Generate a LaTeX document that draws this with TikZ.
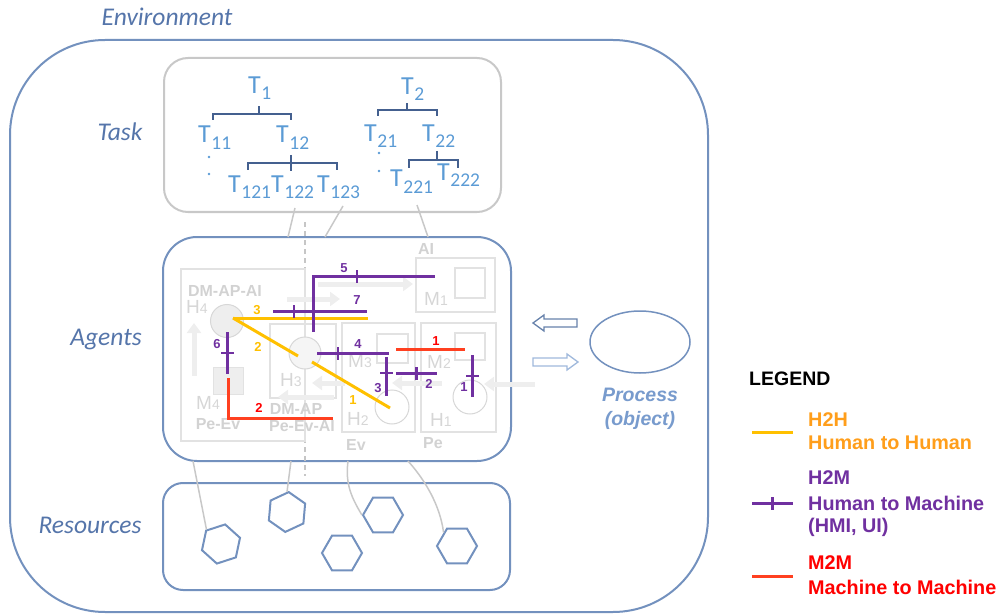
\documentclass[tikz,border=0pt]{standalone}
\usepackage{fontspec}
\setmainfont{Liberation Sans}
\newfontfamily\calfont{Carlito}
\usetikzlibrary{shapes.geometric,arrows.meta}
\definecolor{envblue}{RGB}{115,145,190}
\definecolor{lblblue}{RGB}{85,117,170}
\definecolor{taskgray}{RGB}{200,200,200}
\definecolor{tblue}{RGB}{91,155,213}
\definecolor{brk}{RGB}{68,96,143}
\definecolor{pale}{RGB}{226,226,226}
\definecolor{palefill}{RGB}{238,238,238}
\definecolor{paletext}{RGB}{210,210,210}
\definecolor{orl}{RGB}{255,192,0}
\definecolor{ortxt}{RGB}{255,158,27}
\definecolor{pur}{RGB}{112,48,160}
\definecolor{redl}{RGB}{255,64,32}
\definecolor{redt}{RGB}{255,0,0}
\definecolor{procblue}{RGB}{120,155,205}
\definecolor{linkgray}{RGB}{200,200,200}
\newcommand\tsub[1]{T\kern0.5pt\raisebox{-6pt}{\fontsize{19.5}{19.5}\selectfont #1}}
\tikzset{
  biglbl/.style={font=\calfont\itshape\fontsize{25.5}{25.5}\selectfont, text=lblblue, inner sep=0},
  tlab/.style={font=\calfont\fontsize{26}{26}\selectfont, text=tblue, inner sep=0, anchor=base west},
  bracket/.style={draw=brk, line width=1.5pt},
  palebox/.style={draw=pale, line width=1.5pt},
  palecirc/.style={draw=pale!95!black, fill=palefill, line width=1pt, circle, inner sep=0},
  paletxt/.style={text=paletext, inner sep=0, font=\bfseries\fontsize{16}{16}\selectfont},
  hmtxt/.style={text=paletext!90!white, inner sep=0, font=\fontsize{19}{19}\selectfont},
  palearrow/.style={draw=palefill, line width=5pt, -{Triangle[width=14pt,length=10pt]}},
  hex/.style={regular polygon, regular polygon sides=6, minimum size=40pt, draw=envblue, line width=2pt, inner sep=0},
  h2h/.style={draw=orl, line width=3pt},
  h2m/.style={draw=pur, line width=3pt},
  m2m/.style={draw=redl, line width=3pt},
  tk/.style={fill=pur, inner sep=0, minimum width=2.6pt, minimum height=13pt, sloped, pos=#1},
  num/.style={font=\bfseries\fontsize{13}{13}\selectfont, inner sep=0},
  lgt/.style={font=\bfseries\fontsize{19.8}{19.8}\selectfont, inner sep=0, anchor=west},
  link/.style={draw=linkgray, line width=1.5pt},
}
\begin{document}
\begin{tikzpicture}[x=1pt,y=-1pt]
\useasboundingbox (0,0) rectangle (1002,615);
% Environment
\node[biglbl] (envlbl) at (167,17) {Environment};
\draw[envblue, line width=2pt, rounded corners=95pt] (10,40) rectangle (708,612);
% Boxes
\draw[taskgray, line width=2pt, rounded corners=24pt] (164,58) rectangle (501,212);
\draw[envblue, line width=2pt, rounded corners=34pt] (163,237) rectangle (511,461);
\draw[envblue, line width=2pt, rounded corners=20pt] (163,483) rectangle (510,590);
\node[biglbl] (tasklbl) at (120,132) {Task};
\node[biglbl] (agentslbl) at (106,340) {Agents};
\node[biglbl] (reslbl) at (90,525) {Resources};
% dashed divider
\draw[gray!45, line width=1.5pt, dash pattern=on 5pt off 4pt] (305,222) -- (305,476);
% task-agent links
\draw[link] (295,208) -- (288,237);
\draw[link] (343,206) -- (325,237);
\draw[link] (417,205) -- (428,237);
% Task tree
\node[tlab] (t1) at (248,94) {\tsub{1}};
\node[tlab] (t11) at (198,143) {\tsub{11}};
\node[tlab] (t12) at (276,143) {\tsub{12}};
\node[tlab] (t121) at (228,193) {\tsub{121}};
\node[tlab] (t122) at (271,193) {\tsub{122}};
\node[tlab] (t123) at (317,193) {\tsub{123}};
\node[tlab] (t2) at (401,95) {\tsub{2}};
\node[tlab] (t21) at (364,142) {\tsub{21}};
\node[tlab] (t22) at (422,142) {\tsub{22}};
\node[tlab] (t221) at (390,187) {\tsub{221}};
\node[tlab] (t222) at (437,181) {\tsub{222}};
\draw[bracket] (213,120) -- (213,114) -- (291,114) -- (291,120);
\draw[bracket] (259,114) -- (259,106);
\draw[bracket] (248,170) -- (248,163) -- (337,163) -- (337,170);
\draw[bracket] (291,155) -- (291,171);
\draw[bracket] (378,116) -- (378,110) -- (437,110) -- (437,116);
\draw[bracket] (407,110) -- (407,103);
\draw[bracket] (409,168) -- (409,160) -- (458,160) -- (458,168);
\draw[bracket] (437,151) -- (437,160);
\fill[tblue] (209,157) circle (1.4pt) (209,174) circle (1.4pt);
\fill[tblue] (379,153) circle (1.4pt) (379,171) circle (1.4pt);
% Agents interior (pale)
\draw[palebox] (181,269) rectangle (305,441);
\draw[palebox] (270,324) rectangle (336,398);
\draw[palebox] (416,258) rectangle (495,312);
\draw[palebox] (455,268) rectangle (485,298);
\draw[palebox] (342,323) rectangle (415,432);
\draw[palebox] (377,334) rectangle (408,363);
\draw[palebox] (421,323) rectangle (496,432);
\draw[palebox] (455,333) rectangle (485,360);
\draw[draw=pale, fill=palefill, line width=1pt] (213,367) rectangle (243,394);
\draw[palearrow] (318,284) -- (413,284);
\draw[palearrow] (287,299) -- (340,299);
\draw[palearrow] (194,376) -- (194,323);
\draw[palearrow] (345,383) -- (312,383);
\draw[palearrow] (334,397) -- (278,397);
\draw[palearrow] (442,383) -- (392,383);
\draw[palearrow] (535,384) -- (484,384);
\node[palecirc, minimum size=33pt] (h4) at (227,321) {};
\node[palecirc, minimum size=32pt, fill=palefill!60!white] (h3) at (305,353) {};
\node[palecirc, minimum size=34pt, fill=white] (h2) at (392,407) {};
\node[palecirc, minimum size=34pt, fill=white] (h1) at (470,397) {};
\node[paletxt] (dmapai) at (225,291) {DM-AP-AI};
\node[hmtxt] (h4t) at (197,307) {H\fontsize{14}{14}\selectfont 4};
\node[hmtxt] (m4t) at (208,403) {M\fontsize{14}{14}\selectfont 4};
\node[paletxt] (peev) at (218,424) {Pe-Ev};
\node[hmtxt] (h3t) at (291,380) {H\fontsize{14}{14}\selectfont 3};
\node[paletxt] (dmap) at (296,409) {DM-AP};
\node[paletxt] (peevai) at (302,426) {Pe-Ev-AI};
\node[hmtxt] (m1t) at (436,299) {M\fontsize{14}{14}\selectfont 1};
\node[paletxt] (ait) at (426,249) {AI};
\node[hmtxt] (m3t) at (360,361) {M\fontsize{14}{14}\selectfont 3};
\node[hmtxt] (h2t) at (358,419) {H\fontsize{14}{14}\selectfont 2};
\node[paletxt] (evt) at (356,445) {Ev};
\node[hmtxt] (m2t) at (439,362) {M\fontsize{14}{14}\selectfont 2};
\node[hmtxt] (h1t) at (441,420) {H\fontsize{14}{14}\selectfont 1};
\node[paletxt] (pet) at (433,443) {Pe};
% Resources
\node[hex, shape border rotate=18] (r1) at (221,544) {};
\node[hex, shape border rotate=25] (r2) at (287,512) {};
\node[hex] (r3) at (342,553) {};
\node[hex] (r4) at (383,515) {};
\node[hex] (r5) at (457,546) {};
\draw[link] (193,461) -- (r1.north west);
\draw[link] (291,461) -- (r2.north);
\draw[link] (348,461) .. controls (345,485) and (352,498) .. (r4.west);
\draw[link] (408,461) .. controls (425,480) and (440,505) .. (r5.north west);
% Process
\node[draw=envblue, line width=1.5pt, ellipse, minimum width=100pt, minimum height=62pt, inner sep=0] (proc) at (640,342) {};
\draw[draw=envblue!90!black, fill=white, line width=1.3pt] (533,323) -- (544,315) -- (544,319) -- (577,319) -- (577,327) -- (544,327) -- (544,331) -- cycle;
\draw[draw=procblue!70!white, fill=white, line width=1.3pt] (578,362) -- (567,354) -- (567,358) -- (533,358) -- (533,366) -- (567,366) -- (567,370) -- cycle;
\node[text=procblue, inner sep=0, font=\bfseries\itshape\fontsize{19.5}{19.5}\selectfont] (proct) at (640,395) {Process};
\node[text=procblue, inner sep=0, font=\bfseries\itshape\fontsize{19.5}{19.5}\selectfont] (procobj) at (640,420) {(object)};
% Connections: coordinates
\coordinate (o3e) at (368,318);
\coordinate (o2e) at (298,356);
\coordinate (o1s) at (312,362);
\coordinate (o1e) at (390,408);
% H2H
\draw[h2h] (h4.center) ++(6,-3) -- (o3e);
\draw[h2h] (h4.center) ++(6,-3) -- (o2e);
\draw[h2h] (o1s) -- (o1e);
\node[num, text=orl] (n3o) at (257,310) {3};
\node[num, text=orl] (n2o) at (258,347) {2};
\node[num, text=orl] (n1o) at (353,400) {1};
% H2M
\coordinate (p5a) at (313,332); \coordinate (p5b) at (313,276); \coordinate (p5c) at (435,276);
\draw[h2m] (p5a) -- (p5b) -- (p5c) node[tk=0.36]{};
\coordinate (p7a) at (273,311); \coordinate (p7b) at (367,311);
\draw[h2m] (p7a) -- (p7b) node[tk=0.225]{};
\coordinate (p4a) at (317,353); \coordinate (p4b) at (389,353);
\draw[h2m] (p4a) -- (p4b) node[tk=0.29]{};
\coordinate (p3a) at (386,357); \coordinate (p3b) at (386,396);
\draw[h2m] (p3a) -- (p3b) node[tk=0.41]{};
\coordinate (p2a) at (396,373); \coordinate (p2b) at (437,373);
\draw[h2m] (p2a) -- (p2b) node[tk=0.5]{};
\coordinate (p1a) at (472,355); \coordinate (p1b) at (472,397);
\draw[h2m] (p1a) -- (p1b) node[tk=0.5]{};
\coordinate (p6a) at (227,332); \coordinate (p6b) at (227,374);
\draw[h2m] (p6a) -- (p6b) node[tk=0.5]{};
\node[num, text=pur] (n5) at (344,268) {5};
\node[num, text=pur] (n7) at (357,300) {7};
\node[num, text=pur] (n4) at (358,344) {4};
\node[num, text=pur] (n3p) at (378,388) {3};
\node[num, text=pur] (n2p) at (429,384) {2};
\node[num, text=pur] (n1p) at (464,387) {1};
\node[num, text=pur] (n6) at (217,344) {6};
% M2M
\coordinate (r2a) at (228,378); \coordinate (r2b) at (228,418); \coordinate (r2c) at (333,418);
\draw[m2m] (r2a) -- (r2b) -- (r2c);
\coordinate (r1a) at (396,349); \coordinate (r1b) at (465,349);
\draw[m2m] (r1a) -- (r1b);
\node[num, text=redt] (n2r) at (259,408) {2};
\node[num, text=redt] (n1r) at (436,341) {1};
% Legend
\node[font=\bfseries\fontsize{19.5}{19.5}\selectfont, inner sep=0, anchor=west] (legend) at (749,379) {LEGEND};
\coordinate (lo1) at (752,432); \coordinate (lo2) at (793,432);
\draw[h2h] (lo1) -- (lo2);
\node[lgt, text=ortxt] (lh2h) at (808,420) {H2H};
\node[lgt, text=ortxt] (lh2hb) at (808,443) {Human to Human};
\coordinate (lp1) at (752,503); \coordinate (lp2) at (793,503);
\draw[h2m] (lp1) -- (lp2) node[tk=0.5]{};
\node[lgt, text=pur] (lh2m) at (808,478) {H2M};
\node[lgt, text=pur] (lh2mb) at (808,503) {Human to Machine};
\node[lgt, text=pur] (lh2mc) at (808,527) {(HMI, UI)};
\coordinate (lr1) at (752,576); \coordinate (lr2) at (793,576);
\draw[m2m] (lr1) -- (lr2);
\node[lgt, text=redt] (lm2m) at (808,563) {M2M};
\node[lgt, text=redt] (lm2mb) at (808,587) {Machine to Machine};
\end{tikzpicture}
\end{document}
